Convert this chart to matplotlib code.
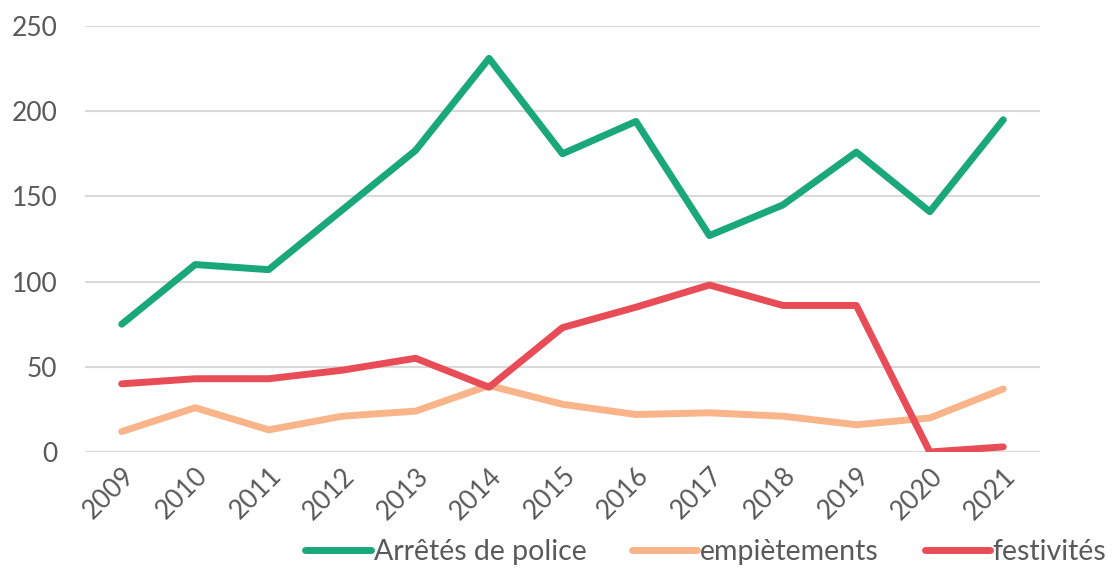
import matplotlib.pyplot as plt

years = ['2009', '2010', '2011', '2012', '2013', '2014', '2015',
         '2016', '2017', '2018', '2019', '2020', '2021']
arretes = [75, 110, 107, 142, 177, 231, 175, 194, 127, 145, 176, 141, 195]
empietements = [12, 26, 13, 21, 24, 39, 28, 22, 23, 21, 16, 20, 37]
festivites = [40, 43, 43, 48, 55, 38, 73, 85, 98, 86, 86, 0, 3]

plt.rcParams['font.family'] = ['Lato', 'DejaVu Sans']
text_color = '#595959'

fig = plt.figure(figsize=(11.17, 5.71), dpi=100)
ax = fig.add_axes([85 / 1117, 1 - 452 / 571, 955 / 1117, 426 / 571])

x = range(len(years))
ax.plot(x, arretes, color='#1AA87A', lw=5, solid_capstyle='round', label='Arrêtés de police')
ax.plot(x, empietements, color='#F9B48A', lw=5, solid_capstyle='round', label='empiètements')
ax.plot(x, festivites, color='#E84C56', lw=5, solid_capstyle='round', label='festivités')

ax.set_xlim(-0.5, len(years) - 0.5)
ax.set_ylim(0, 250)
ax.set_yticks([0, 50, 100, 150, 200, 250])
ax.set_xticks(list(x))
ax.set_xticklabels(years, rotation=45, ha='right', rotation_mode='anchor')
ax.grid(axis='y', color='#D9D9D9', lw=1.5)
ax.set_axisbelow(True)
for s in ax.spines.values():
    s.set_visible(False)
ax.tick_params(axis='both', length=0, labelsize=19, colors=text_color)
ax.tick_params(axis='y', pad=20)
ax.tick_params(axis='x', pad=8)

leg = fig.legend(loc='lower center', bbox_to_anchor=(0.632, -0.035), ncol=3, frameon=False,
                 fontsize=20.5, handlelength=2.3, handletextpad=0.1, columnspacing=1.6)
for t in leg.get_texts():
    t.set_color(text_color)

fig.savefig('out.png', dpi=100)
